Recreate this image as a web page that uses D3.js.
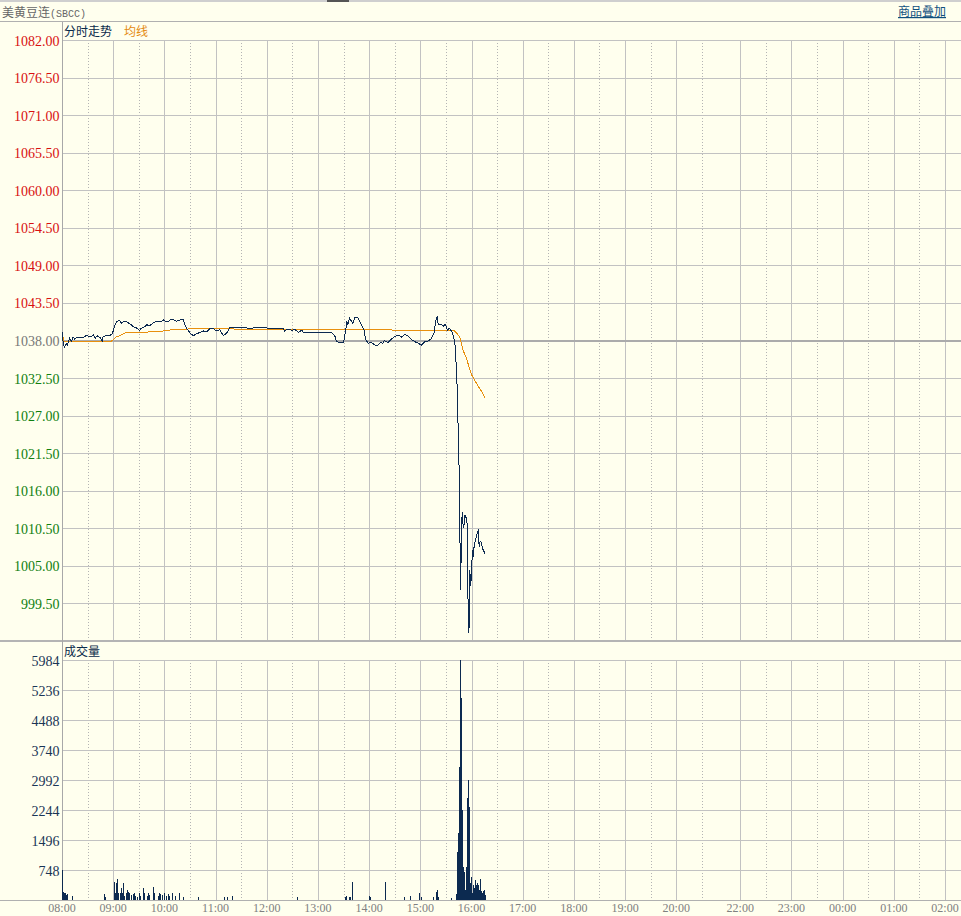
<!DOCTYPE html>
<html><head><meta charset="utf-8">
<script src="https://cdn.jsdelivr.net/npm/d3@7"></script>
<style>html,body{margin:0;padding:0;background:#ffffee;} svg{display:block}</style>
</head><body>
<svg id="c" width="961" height="916"></svg>
<script>
// ---------- data ----------
const prevClose = 1038.00;
const priceTicks = [1082.00, 1076.50, 1071.00, 1065.50, 1060.00, 1054.50, 1049.00, 1043.50,
                    1038.00, 1032.50, 1027.00, 1021.50, 1016.00, 1010.50, 1005.00, 999.50];
const priceMin = 994.00;
const volTicks = [5984, 5236, 4488, 3740, 2992, 2244, 1496, 748];
const timeLabels = ["08:00","09:00","10:00","11:00","12:00","13:00","14:00","15:00","16:00",
                    "17:00","18:00","19:00","20:00","22:00","23:00","00:00","01:00","02:00"];

const priceTimes = ["08:00","08:01","08:02","08:03","08:05","08:06","08:09","08:11","08:13","08:15",
  "08:17","08:21","08:25","08:29","08:33","08:37","08:39","08:41","08:45","08:47","08:48","08:52",
  "08:56","08:59","09:02","09:04","09:07","09:10","09:12","09:16","09:20","09:24","09:28","09:31",
  "09:33","09:37","09:39","09:43","09:47","09:51","09:55","09:59","10:03","10:07","10:10","10:14",
  "10:18","10:22","10:24","10:26","10:30","10:34","10:38","10:42","10:46","10:50","10:53","10:57",
  "11:01","11:05","11:09","11:13","11:17","11:29","11:40","11:52","12:04","12:19","12:21","12:25",
  "12:29","12:33","12:37","12:41","12:43","13:06","13:16","13:20","13:22","13:30","13:32","13:34",
  "13:35","13:37","13:41","13:43","13:47","13:51","13:54","13:56","13:59","14:03","14:07","14:09",
  "14:13","14:16","14:18","14:22","14:26","14:30","14:34","14:38","14:42","14:46","14:50","14:54",
  "14:58","15:01","15:05","15:09","15:13","15:16","15:18","15:20","15:21","15:24","15:27","15:29",
  "15:32","15:34","15:37","15:39","15:41","15:43","15:45","15:46","15:47","15:48","15:49","15:50",
  "15:51","15:52","15:53","15:54","15:55","15:56","15:57","15:58","15:59","16:00","16:01","16:02",
  "16:03","16:04","16:05","16:06","16:07","16:08","16:09","16:10","16:11","16:12","16:13","16:15","16:16"];
const prices = [1039.2,1038.1,1037.3,1037.1,1037.5,1037.3,1038.3,1037.9,1038.5,1038.2,
  1038.4,1038.5,1038.4,1038.8,1038.5,1038.8,1038.3,1038.7,1038.4,1037.9,1038.5,1038.8,
  1038.7,1039.0,1040.2,1040.7,1041.0,1040.5,1040.8,1040.7,1040.4,1040.0,1039.8,1039.5,
  1039.8,1040.0,1040.3,1040.2,1040.6,1040.8,1040.7,1041.0,1040.7,1041.0,1041.1,1040.8,
  1041.0,1041.1,1040.3,1039.8,1039.1,1038.7,1039.0,1039.2,1039.4,1039.3,1039.7,1039.8,
  1039.4,1039.6,1038.7,1039.1,1039.9,1039.9,1039.8,1039.9,1039.8,1039.8,1039.4,1039.7,
  1039.5,1039.6,1039.2,1039.5,1039.2,1039.2,1039.2,1038.6,1037.8,1037.7,1039.1,1040.8,
  1040.3,1041.3,1040.5,1041.3,1041.3,1040.3,1039.5,1038.1,1037.6,1037.7,1037.3,1037.2,
  1037.7,1037.6,1038.0,1037.7,1038.2,1038.6,1038.8,1038.5,1038.9,1038.6,1038.1,1037.8,
  1037.6,1037.3,1037.8,1037.9,1038.3,1039.1,1040.8,1041.6,1040.3,1040.4,1040.1,1040.4,
  1039.5,1039.8,1039.3,1038.6,1037.1,1031.7,1022.0,1015.9,1001.5,1007.0,1012.9,1011.2,
  1010.5,1012.5,1012.2,1012.0,1011.0,999.0,995.1,1004.4,1002.0,1003.9,1007.3,1006.3,
  1007.8,1008.5,1009.0,1009.3,1010.0,1010.25,1007.8,1008.5,1008.5,1008.1,1007.5,1007.0,1006.7];

const avgTimes = ["08:00","08:02","08:03","08:10","08:58","09:01","09:04","09:08","09:14","09:30",
  "09:55","10:02","10:30","11:00","12:00","13:30","14:14","15:00","15:16","15:40","15:46","15:50",
  "15:54","16:00","16:06","16:12","16:16"];
const avgPrices = [1039.2,1038.0,1037.8,1037.9,1037.9,1038.2,1038.6,1038.7,1039.1,1039.2,
  1039.3,1039.5,1039.7,1039.7,1039.65,1039.6,1039.55,1039.5,1039.4,1039.4,1038.6,1036.6,
  1035.4,1033.0,1031.7,1030.5,1029.5];

const volTimes = ["08:00","08:01","08:02","08:03","08:05","08:06","08:12","08:49","08:50","09:01",
  "09:02","09:03","09:04","09:05","09:06","09:08","09:09","09:10","09:11","09:12","09:13","09:15",
  "09:16","09:17","09:18","09:19","09:21","09:23","09:24","09:25","09:28","09:30","09:31","09:35",
  "09:36","09:40","09:41","09:42","09:47","09:48","09:52","09:54","09:55","09:57","10:00","10:02",
  "10:04","10:06","10:09","10:13","10:17","10:22","10:39","11:10","11:13","11:19","12:35","13:32",
  "13:33","13:36","13:38","13:40","14:00","14:01","14:19","14:41","14:48","14:58","14:59","15:01",
  "15:15","15:18","15:19","15:21","15:36","15:42","15:43","15:44","15:45","15:46","15:48","15:49",
  "15:50","15:51","15:52","15:53","15:55","15:56","15:57","15:58","15:59","16:00","16:02","16:03",
  "16:04","16:05","16:06","16:08","16:09","16:10","16:11","16:12","16:13","16:15","16:16"];
const volumes = [750,207,166,180,125,150,100,150,83,457,
  180,415,166,515,180,166,291,166,415,200,100,166,
  249,200,100,166,125,150,180,100,83,166,100,291,
  166,100,180,125,332,166,100,180,150,125,166,100,
  150,100,166,100,166,83,83,66,83,100,83,83,
  100,83,66,457,100,83,457,66,100,166,125,83,
  66,208,250,66,58,141,1202,1670,3324,5984,5029,2244,
  830,706,250,830,2536,2992,2327,424,582,175,374,299,
  499,374,424,374,250,515,225,175,225,249,125];

// ---------- layout ----------
const W = 961, L = 62, R = 961;
const svg = d3.select("#c");
const serif = "'Liberation Serif', serif";
const mono = "'Liberation Mono', monospace";
const cjk = "'Noto Sans CJK SC', sans-serif";

function tIdx(s) {
  const [h, m] = s.split(":").map(Number);
  let mins = ((h < 8 ? h + 24 : h) - 8) * 60 + m;
  if (mins >= 810) mins -= 45;   // break 20:45 - 21:30
  return mins;
}

const x = d3.scaleLinear().domain([0, tIdx("02:00")]).range([62, 945]);
const yP = d3.scaleLinear().domain([priceMin, priceTicks[0]]).range([641, 40]);
const yV = d3.scaleLinear().domain([0, volTicks[0]]).range([900, 660]);

const px = v => Math.round(v) + 0.5;
const gridCol = "#c2c2c2";

// top chrome
svg.append("rect").attr("x", 0).attr("y", 0).attr("width", W).attr("height", 2).attr("fill", "#cfcfcf");
svg.append("rect").attr("x", 327).attr("y", 0).attr("width", 22).attr("height", 2).attr("fill", "#555");
svg.append("line").attr("x1", 0).attr("x2", W).attr("y1", 21.5).attr("y2", 21.5).attr("stroke", "#b0b0b0");

svg.append("text").attr("x", 2).attr("y", 17).attr("font-family", cjk).attr("font-size", 12)
  .attr("fill", "#666").text("美黄豆连")
  .append("tspan").attr("font-family", mono).attr("font-size", 10).text("(SBCC)");
svg.append("text").attr("x", 898).attr("y", 16).attr("font-family", cjk).attr("font-size", 12)
  .attr("fill", "#10507e").attr("text-decoration", "underline").text("商品叠加");

// pane labels
svg.append("text").attr("x", 64).attr("y", 36).attr("font-family", cjk).attr("font-size", 12)
  .attr("fill", "#0a2a4a").text("分时走势");
svg.append("text").attr("x", 124).attr("y", 36).attr("font-family", cjk).attr("font-size", 12)
  .attr("fill", "#e48a10").text("均线");
svg.append("text").attr("x", 64).attr("y", 656).attr("font-family", cjk).attr("font-size", 12)
  .attr("fill", "#0a2a4a").text("成交量");

// vertical grid
const hourIdx = timeLabels.map(tIdx);
const halfIdx = hourIdx.slice(0, -1).map(d => d + 30);
const panes = [[yP.range()[1], yP.range()[0]], [yV.range()[1], yV.range()[0]]];
const g = svg.append("g").attr("shape-rendering", "crispEdges");
panes.forEach(([t, b]) => {
  g.selectAll(null).data(halfIdx).enter().append("line")
    .attr("x1", d => px(x(d))).attr("x2", d => px(x(d))).attr("y1", t).attr("y2", b)
    .attr("stroke", "#b4b4b4").attr("stroke-dasharray", "1,2");
  g.selectAll(null).data(hourIdx.slice(1)).enter().append("line")
    .attr("x1", d => px(x(d))).attr("x2", d => px(x(d))).attr("y1", t).attr("y2", b)
    .attr("stroke", gridCol);
});

// horizontal grid price
g.selectAll(null).data(priceTicks).enter().append("line")
  .attr("x1", L).attr("x2", R)
  .attr("y1", d => d === prevClose ? Math.round(yP(d)) : px(yP(d)))
  .attr("y2", d => d === prevClose ? Math.round(yP(d)) : px(yP(d)))
  .attr("stroke", d => d === prevClose ? "#ababab" : gridCol)
  .attr("stroke-width", d => d === prevClose ? 2 : 1);
// horizontal grid volume
g.selectAll(null).data(volTicks).enter().append("line")
  .attr("x1", L).attr("x2", R).attr("y1", d => px(yV(d))).attr("y2", d => px(yV(d)))
  .attr("stroke", gridCol);

// separators / axes
g.append("line").attr("x1", 0).attr("x2", W).attr("y1", Math.round(yP(priceMin))).attr("y2", Math.round(yP(priceMin)))
  .attr("stroke", "#b4b4b4").attr("stroke-width", 2);
g.append("line").attr("x1", 0).attr("x2", W).attr("y1", px(yV(0))).attr("y2", px(yV(0)))
  .attr("stroke", "#b0b0b0");
g.append("line").attr("x1", L + 0.5).attr("x2", L + 0.5).attr("y1", 22).attr("y2", yV(0))
  .attr("stroke", "#a8a8a8");

// price labels
svg.selectAll(null).data(priceTicks).enter().append("text")
  .attr("x", 59.5).attr("y", d => yP(d) + 5.5).attr("text-anchor", "end")
  .attr("font-family", serif).attr("font-size", 14)
  .attr("fill", d => d > prevClose ? "#d81010" : d < prevClose ? "#108010" : "#777")
  .text(d => d.toFixed(2));
// volume labels
svg.selectAll(null).data(volTicks).enter().append("text")
  .attr("x", 59.5).attr("y", d => yV(d) + 6).attr("text-anchor", "end")
  .attr("font-family", serif).attr("font-size", 14).attr("fill", "#1a3556")
  .text(d => d);
// time labels
svg.selectAll(null).data(timeLabels).enter().append("text")
  .attr("x", d => x(tIdx(d))).attr("y", 912).attr("text-anchor", "middle")
  .attr("font-family", serif).attr("font-size", 12).attr("fill", "#808080")
  .text(d => d);

// volume bars
const vol = volTimes.map((t, i) => ({ t: tIdx(t), v: volumes[i] }));
svg.append("g").attr("shape-rendering", "crispEdges").selectAll("rect").data(vol).enter().append("rect")
  .attr("x", d => Math.round(x(d.t))).attr("width", 1)
  .attr("y", d => yV(d.v)).attr("height", d => yV(0) - yV(d.v))
  .attr("fill", "#0c2a50");

// avg line
const avg = avgTimes.map((t, i) => ({ t: tIdx(t), p: avgPrices[i] }));
svg.append("path").datum(avg)
  .attr("d", d3.line().x(d => x(d.t)).y(d => yP(d.p)))
  .attr("fill", "none").attr("stroke", "#e8900e").attr("stroke-width", 1)
  .attr("shape-rendering", "crispEdges");

// price line
const pr = priceTimes.map((t, i) => ({ t: tIdx(t), p: prices[i] }));
svg.append("path").datum(pr)
  .attr("d", d3.line().x(d => x(d.t)).y(d => yP(d.p)))
  .attr("fill", "none").attr("stroke", "#0c2a50").attr("stroke-width", 1)
  .attr("shape-rendering", "crispEdges");
</script>
</body></html>
